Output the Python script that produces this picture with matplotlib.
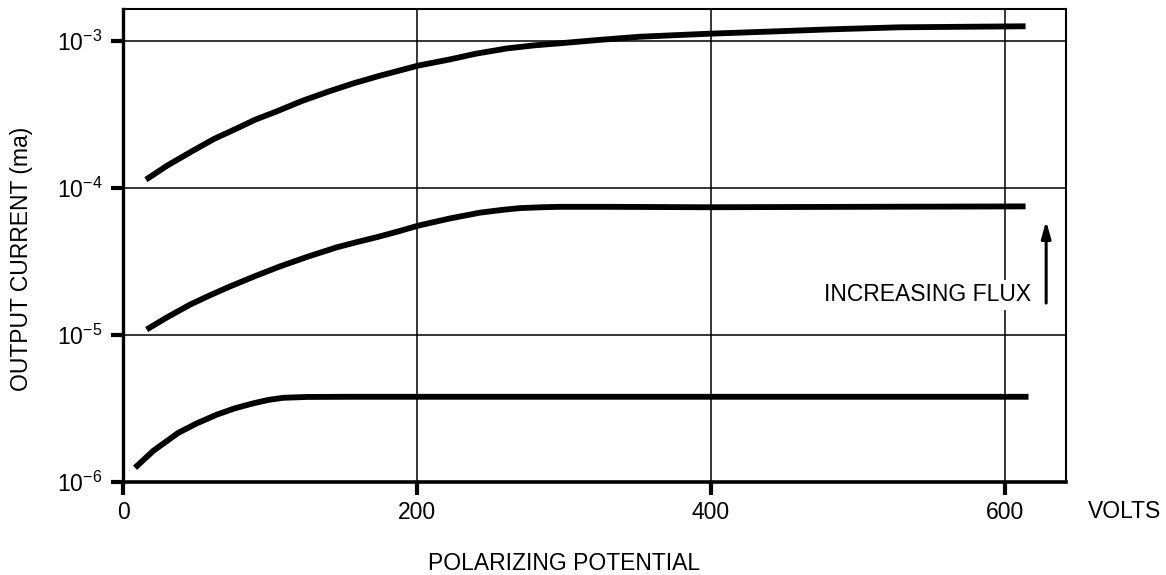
import matplotlib
matplotlib.use("Agg")
import matplotlib.pyplot as plt

plt.rcParams['font.family'] = ['Liberation Sans', 'DejaVu Sans']
plt.rcParams['mathtext.fontset'] = 'custom'
plt.rcParams['mathtext.rm'] = 'Liberation Sans'
plt.rcParams['mathtext.it'] = 'Liberation Sans:italic'
plt.rcParams['mathtext.bf'] = 'Liberation Sans:bold'

# ---- data ----
volts_high = [15.6, 30, 47.8, 62, 77.3, 90, 104.5, 122, 140.8, 158, 174.8, 200.9, 222.4, 240, 261, 280,
              299.5, 325, 351.7, 397, 440, 480, 528, 570, 614]
current_high = [1.14e-4, 1.42e-4, 1.80e-4, 2.16e-4, 2.54e-4, 2.92e-4, 3.32e-4, 3.92e-4, 4.57e-4, 5.2e-4,
                5.81e-4, 6.81e-4, 7.5e-4, 8.2e-4, 8.9e-4, 9.35e-4, 9.7e-4, 1.02e-3, 1.07e-3, 1.12e-3,
                1.16e-3, 1.2e-3, 1.24e-3, 1.25e-3, 1.26e-3]

volts_mid = [16.1, 30, 45.6, 60, 72.8, 90, 106.8, 126, 145.4, 160, 172.6, 187, 200.9, 222.4, 242.9, 258,
             270, 285, 297, 330, 397, 500, 614]
current_mid = [1.09e-5, 1.32e-5, 1.61e-5, 1.88e-5, 2.14e-5, 2.52e-5, 2.93e-5, 3.42e-5, 3.95e-5, 4.31e-5,
               4.63e-5, 5.06e-5, 5.55e-5, 6.21e-5, 6.8e-5, 7.1e-5, 7.3e-5, 7.4e-5, 7.45e-5, 7.45e-5,
               7.4e-5, 7.45e-5, 7.5e-5]

volts_low = [8.2, 20.6, 37.6, 50, 63.7, 76, 88.7, 99, 109, 125, 156.7, 222, 400, 616]
current_low = [1.25e-6, 1.63e-6, 2.16e-6, 2.5e-6, 2.87e-6, 3.17e-6, 3.43e-6, 3.62e-6, 3.74e-6, 3.79e-6,
               3.8e-6, 3.8e-6, 3.8e-6, 3.8e-6]

x_ticks = [0, 200, 400, 600]
x_tick_labels = ['0', '200', '400', '600']
y_ticks = [1e-6, 1e-5, 1e-4, 1e-3]
y_tick_labels = [r'$\mathregular{10^{-6}}$', r'$\mathregular{10^{-5}}$',
                 r'$\mathregular{10^{-4}}$', r'$\mathregular{10^{-3}}$']

FS = 16.5

fig = plt.figure(figsize=(11.66, 5.75), dpi=100)
ax = fig.add_axes([123/1166, 1 - 482/575, (1066 - 123)/1166, (482 - 9)/575])

ax.set_yscale('log')
ax.set_xlim(0, 641.5)
ax.set_ylim(1e-6, 10**-2.782)

for v, c in [(volts_high, current_high), (volts_mid, current_mid), (volts_low, current_low)]:
    ax.plot(v, c, color='black', lw=4.2, solid_capstyle='butt', solid_joinstyle='round', zorder=3)

ax.set_xticks(x_ticks)
ax.set_xticklabels(x_tick_labels)
ax.set_yticks(y_ticks)
ax.set_yticklabels(y_tick_labels)
ax.minorticks_off()
ax.tick_params(axis='both', direction='out', length=9, width=3, labelsize=FS, color='black')
ax.tick_params(axis='x', pad=5)
ax.tick_params(axis='y', pad=6)

ax.grid(True, which='major', color='black', lw=1.1, zorder=1)

ax.spines['left'].set_linewidth(2.4)
ax.spines['bottom'].set_linewidth(2.6)
ax.spines['top'].set_linewidth(1.5)
ax.spines['right'].set_linewidth(1.5)

# annotation
ax.text(617.7, 1.70e-5, 'INCREASING FLUX', ha='right', va='baseline', fontsize=FS,
        bbox=dict(facecolor='white', edgecolor='none', pad=2.5), zorder=4)
ax.annotate('', xy=(628, 5.97e-5), xytext=(628, 1.65e-5),
            arrowprops=dict(arrowstyle='-|>,head_length=1.0,head_width=0.28', color='black', lw=2.2,
                            shrinkA=0, shrinkB=0), zorder=4)

fig.text(1088/1166, 1 - 518/575, 'VOLTS', ha='left', va='baseline', fontsize=FS)
fig.text(564/1166, 1 - 564/575, 'POLARIZING POTENTIAL', ha='center', va='center', fontsize=FS)
fig.text(22/1166, 1 - 259/575, 'OUTPUT CURRENT (ma)', ha='center', va='center', rotation=90, fontsize=FS)

fig.savefig('out.png', dpi=100)
